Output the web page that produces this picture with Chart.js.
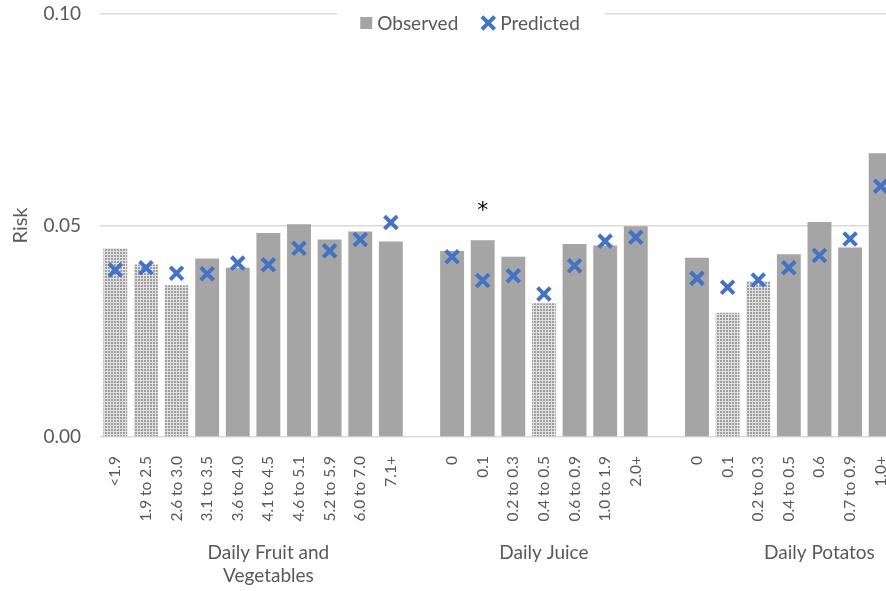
<!DOCTYPE html>
<html><head><meta charset="utf-8">
<script src="https://cdn.jsdelivr.net/npm/chart.js@4/dist/chart.umd.min.js"></script>
<style>
html,body{margin:0;padding:0;background:#fff;overflow:hidden;width:886px;height:591px;}
#c{display:block;}
</style></head><body>
<canvas id="c" width="909" height="591"></canvas>
<script>
// ---- data ----
const groupNames = [['Daily Fruit and','Vegetables'], ['Daily Juice'], ['Daily Potatos']];
const fruitLabels  = ['<1.9','1.9 to 2.5','2.6 to 3.0','3.1 to 3.5','3.6 to 4.0','4.1 to 4.5','4.6 to 5.1','5.2 to 5.9','6.0 to 7.0','7.1+'];
const juiceLabels  = ['0','0.1','0.2 to 0.3','0.4 to 0.5','0.6 to 0.9','1.0 to 1.9','2.0+'];
const potatoLabels = ['0','0.1','0.2 to 0.3','0.4 to 0.5','0.6','0.7 to 0.9','1.0+'];

const fruitObserved  = [0.0446,0.0408,0.0359,0.0422,0.0400,0.0482,0.0503,0.0467,0.0486,0.0462];
const fruitPredicted = [0.0395,0.0400,0.0387,0.0386,0.0411,0.0407,0.0446,0.0440,0.0467,0.0507];
const juiceObserved  = [0.0440,0.0465,0.0426,0.0316,0.0456,0.0453,0.0498];
const juicePredicted = [0.0426,0.0370,0.0381,0.0338,0.0405,0.0463,0.0472];
const potatoObserved = [0.0424,0.0294,0.0369,0.0432,0.0508,0.0448,0.0671];
const potatoPredicted= [0.0375,0.0354,0.0371,0.0400,0.0429,0.0468,0.0593];

// low-count (pattern-filled) bars and significance flags
const fruitLow  = [true,true,true,false,false,false,false,false,false,false];
const juiceLow  = [false,false,false,true,false,false,false];
const potatoLow = [false,true,true,false,false,false,false];
const fruitSig  = [false,false,false,false,false,false,false,false,false,false];
const juiceSig  = [false,true,false,false,false,false,false];
const potatoSig = [false,false,false,false,false,false,false];

const yTicks = [0, 0.05, 0.10];

// ---- build ----
const categories = [...fruitLabels, '', ...juiceLabels, '', ...potatoLabels];
const observed   = [...fruitObserved, null, ...juiceObserved, null, ...potatoObserved];
const predicted  = [...fruitPredicted, null, ...juicePredicted, null, ...potatoPredicted];
const lowFlags   = [...fruitLow, false, ...juiceLow, false, ...potatoLow];
const sigFlags   = [...fruitSig, false, ...juiceSig, false, ...potatoSig];
const groupStarts = [0, fruitLabels.length + 1, fruitLabels.length + juiceLabels.length + 2];
const groupCenters = [ (fruitLabels.length)/2, groupStarts[1] + (juiceLabels.length-1)/2, groupStarts[2] + (potatoLabels.length+1)/2 ];

const TEXT = '#595959', GRID = '#D9D9D9', GREY = '#A5A5A5', BLUE = '#4472C4';
const FONT = 'Lato';

function makePattern(){
  const p = document.createElement('canvas'); p.width = 3; p.height = 3;
  const g = p.getContext('2d');
  g.fillStyle = '#E0E0E0'; g.fillRect(0,0,3,3);
  g.fillStyle = '#9E9E9E'; g.fillRect(0,0,2,2);
  return document.getElementById('c').getContext('2d').createPattern(p,'repeat');
}
const pattern = makePattern();
const barColors = lowFlags.map(f => f ? pattern : GREY);

const extras = {
  id: 'extras',
  afterDraw(chart){
    const ctx = chart.ctx, xs = chart.scales.x, ys = chart.scales.y;
    ctx.save();
    // significance asterisks
    ctx.fillStyle = '#000';
    ctx.font = '22px "DejaVu Sans"';
    ctx.textAlign = 'center'; ctx.textBaseline = 'alphabetic';
    sigFlags.forEach((s,i)=>{
      if(!s) return;
      const v = Math.max(observed[i], predicted[i]);
      ctx.fillText('*', xs.getPixelForValue(i), ys.getPixelForValue(v) - 23);
    });
    // group labels
    ctx.fillStyle = TEXT;
    ctx.font = '19px ' + FONT;
    ctx.textBaseline = 'middle';
    groupNames.forEach((lines,g)=>{
      const cx = xs.getPixelForValue(groupCenters[g]);
      lines.forEach((t,k)=> ctx.fillText(t, cx, 553 + k*23));
    });
    // legend
    ctx.font = '19px ' + FONT;
    const w1 = ctx.measureText('Observed').width, w2 = ctx.measureText('Predicted').width;
    const total = 12 + 5 + w1 + 24 + 16 + 4 + w2;
    let x = 471 - total/2;
    const cy = 23;
    ctx.fillStyle = '#fff';
    ctx.fillRect(x - 23, cy - 14, total + 46, 28);
    ctx.fillStyle = GREY; ctx.fillRect(x, cy - 6, 12, 12);
    x += 17;
    ctx.fillStyle = TEXT; ctx.textAlign = 'left'; ctx.textBaseline = 'middle';
    ctx.fillText('Observed', x, cy + 1);
    x += w1 + 22;
    ctx.strokeStyle = BLUE; ctx.lineWidth = 4;
    Chart.helpers.drawPoint(ctx, {pointStyle:'crossRot', radius:9, rotation:0, borderWidth:4}, x + 8, cy);
    x += 20;
    ctx.fillStyle = TEXT;
    ctx.fillText('Predicted', x, cy + 1);
    ctx.restore();
  }
};

Chart.defaults.font.family = FONT;
Chart.defaults.color = TEXT;

new Chart(document.getElementById('c'), {
  data: {
    labels: categories,
    datasets: [
      { type:'line', label:'Predicted', data: predicted, showLine:false,
        pointStyle:'crossRot', pointRadius:9, pointHoverRadius:9, pointBorderWidth:4,
        borderColor: BLUE, backgroundColor: BLUE, order:1 },
      { type:'bar', label:'Observed', data: observed, backgroundColor: barColors,
        barPercentage:0.78, categoryPercentage:1.0, order:2 }
    ]
  },
  options: {
    responsive:false, animation:false,
    layout:{ padding:{ top:14, right:4, left:0, bottom:0 } },
    plugins:{ legend:{display:false}, tooltip:{enabled:false} },
    scales:{
      x:{
        grid:{display:false}, border:{display:false},
        ticks:{ autoSkip:false, maxRotation:90, minRotation:90, padding:11, font:{size:15.5}, color:TEXT },
        afterFit(s){ s.height = 154; s.paddingLeft = 0; s.paddingRight = 0; }
      },
      y:{
        min:0, max:0.10,
        afterBuildTicks(s){ s.ticks = yTicks.map(v=>({value:v})); },
        ticks:{ padding:19, font:{size:19}, color:TEXT, callback:v=>Number(v).toFixed(2) },
        grid:{ color:GRID, lineWidth:1.5, drawTicks:false },
        border:{display:false},
        title:{ display:true, text:'Risk', font:{size:20}, color:TEXT, padding:{top:9,bottom:0} },
        afterFit(s){ s.width = 100; s.paddingTop = 0; s.paddingBottom = 0; }
      }
    }
  },
  plugins:[extras]
});
</script>
</body></html>
